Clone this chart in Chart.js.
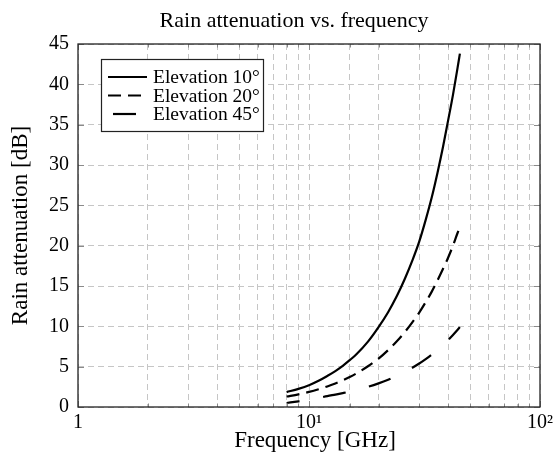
<!DOCTYPE html>
<html><head><meta charset="utf-8">
<script src="https://cdn.jsdelivr.net/npm/chart.js@4.4.1/dist/chart.umd.min.js"></script>
<style>html,body{margin:0;padding:0;background:#fff}</style>
</head><body>
<canvas id="c" width="557" height="455"></canvas>
<script>
const chartTitle = 'Rain attenuation vs. frequency';
const xTitle = 'Frequency [GHz]';
const yTitle = 'Rain attenuation [dB]';
const seriesLabels = ['Elevation 10°', 'Elevation 20°', 'Elevation 45°'];

const freqs = [8, 9, 10, 11, 12, 13, 14, 15, 16, 18, 20, 22, 24, 26, 28, 30, 32, 34, 36, 38, 40, 42, 44, 45];
const att10 = [1.85, 2.25, 2.7, 3.25, 3.85, 4.45, 5.1, 5.8, 6.5, 8.1, 9.9, 11.75, 13.75, 15.9, 18.15, 20.5, 23.2, 26.0, 29.05, 32.2, 35.5, 38.7, 42.1, 43.8];
const att20 = [1.3, 1.57, 1.87, 2.2, 2.55, 2.92, 3.3, 3.72, 4.15, 5.05, 6.0, 7.05, 8.15, 9.3, 10.5, 11.7, 13.0, 14.3, 15.7, 17.1, 18.5, 20.0, 21.6, 22.3];
const att45 = [0.5, 0.7, 0.9, 1.12, 1.35, 1.54, 1.72, 1.9, 2.1, 2.5, 2.93, 3.38, 3.86, 4.35, 4.86, 5.39, 5.94, 6.5, 7.08, 7.68, 8.3, 8.93, 9.57, 9.9];

const yTicks = [0, 5, 10, 15, 20, 25, 30, 35, 40, 45];
const xTickLabels = ['1', '10¹', '10²'];   // decades 10^0, 10^1, 10^2

const FONT = 'Liberation Serif';
const dashes = [[], [13, 7], [23, 24]];
const dashOffsets = [0, 0, 10];

function pts(f, a) { return f.map((v, i) => ({x: v, y: a[i]})); }

const series = [pts(freqs, att10), pts(freqs, att20), pts(freqs, att45)];

const decor = {
  id: 'decor',
  afterDatasetsDraw(chart) {
    const {ctx, chartArea: ca, scales} = chart;
    ctx.save();
    // inner tick marks (pgfplots style)
    ctx.strokeStyle = '#8a8a8a';
    ctx.lineWidth = 1;
    scales.x.ticks.forEach(t => {
      const x = Math.round(scales.x.getPixelForValue(t.value)) + 0.5;
      const lg = Math.log10(t.value);
      const major = Math.abs(lg - Math.round(lg)) < 1e-9;
      const len = major ? 6 : 3.5;
      ctx.beginPath();
      ctx.moveTo(x, ca.top); ctx.lineTo(x, ca.top + len);
      ctx.moveTo(x, ca.bottom); ctx.lineTo(x, ca.bottom - len);
      ctx.stroke();
    });
    scales.y.ticks.forEach(t => {
      const y = Math.round(scales.y.getPixelForValue(t.value)) + 0.5;
      ctx.beginPath();
      ctx.moveTo(ca.left, y); ctx.lineTo(ca.left + 6, y);
      ctx.moveTo(ca.right, y); ctx.lineTo(ca.right - 6, y);
      ctx.stroke();
    });
    // legend box
    const bx = ca.left + 23, by = ca.top + 15, bw = 162, bh = 72;
    ctx.fillStyle = '#fff';
    ctx.fillRect(bx, by, bw, bh);
    ctx.strokeStyle = '#222';
    ctx.lineWidth = 1.2;
    ctx.strokeRect(bx + 0.5, by + 0.5, bw, bh);
    ctx.font = '19.5px "' + FONT + '"';
    ctx.textBaseline = 'middle';
    ctx.textAlign = 'left';
    chart.data.datasets.forEach((ds, i) => {
      const yy = by + 18 + i * 18.5;
      ctx.save();
      ctx.strokeStyle = '#000';
      ctx.lineWidth = 2.2;
      ctx.setLineDash(ds.borderDash || []);
      ctx.lineDashOffset = i === 2 ? 42 : 0;
      ctx.beginPath();
      ctx.moveTo(bx + 7, yy); ctx.lineTo(bx + 46, yy);
      ctx.stroke();
      ctx.restore();
      ctx.fillStyle = '#000';
      ctx.fillText(ds.label, bx + 52, yy + 1);
    });
    // frame
    ctx.strokeStyle = '#222';
    ctx.lineWidth = 1.3;
    ctx.strokeRect(ca.left, ca.top, ca.right - ca.left, ca.bottom - ca.top);
    // titles
    ctx.fillStyle = '#000';
    ctx.textAlign = 'center';
    ctx.textBaseline = 'middle';
    ctx.font = '22px "' + FONT + '"';
    ctx.fillText(chartTitle, 294, 21);
    ctx.font = '23px "' + FONT + '"';
    ctx.fillText(xTitle, 315, 441);
    ctx.restore();
  }
};

const gridOpts = {color: '#c6c6c6', lineWidth: 1, drawTicks: false};

new Chart(document.getElementById('c'), {
  type: 'line',
  data: {
    datasets: series.map((d, i) => ({
      label: seriesLabels[i],
      data: d,
      borderColor: '#000',
      backgroundColor: '#000',
      borderWidth: 2.2,
      borderDash: dashes[i],
      borderDashOffset: dashOffsets[i],
      pointRadius: 0,
      fill: false,
      cubicInterpolationMode: 'monotone'
    }))
  },
  options: {
    responsive: false,
    animation: false,
    devicePixelRatio: 1,
    layout: {padding: {left: 0, right: 17, top: 44, bottom: 0}},
    plugins: {legend: {display: false}, title: {display: false}, tooltip: {enabled: false}},
    scales: {
      x: {
        type: 'logarithmic', min: 1, max: 100, position: 'bottom',
        grid: gridOpts,
        border: {display: false, dash: [6, 4]},
        ticks: {
          autoSkip: false, maxRotation: 0, padding: 4, color: '#000',
          font: {family: FONT, size: 20},
          callback: (v) => {
            const lg = Math.log10(v);
            return Math.abs(lg - Math.round(lg)) < 1e-9 ? xTickLabels[Math.round(lg)] : '';
          }
        },
        title: {display: false, text: xTitle},
        afterFit: (s) => { s.height = 48; }
      },
      y: {
        type: 'linear', min: 0, max: 45,
        grid: gridOpts,
        border: {display: false, dash: [6, 4]},
        afterBuildTicks: (s) => { s.ticks = yTicks.map(v => ({value: v})); },
        ticks: {padding: 9, color: '#000', font: {family: FONT, size: 20}},
        title: {display: true, text: yTitle, color: '#000', font: {family: FONT, size: 23}, padding: {top: 7, bottom: 0}},
        afterFit: (s) => { s.width = 78; }
      }
    }
  },
  plugins: [decor]
});
</script>
</body></html>
